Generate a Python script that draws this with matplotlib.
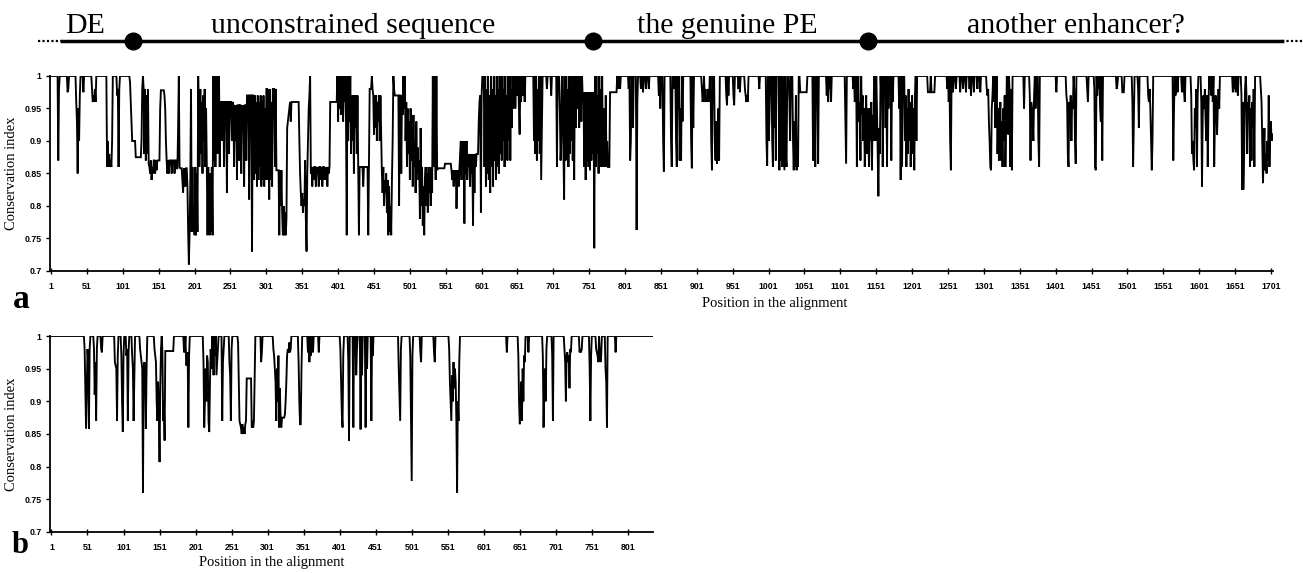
import numpy as np
import matplotlib
matplotlib.use("Agg")
import matplotlib.pyplot as plt

# ---- panel a: conservation index along the 1703-position alignment ----
a_len = 1703
# stretches where the profile sits on a level below 1 (start, end, level)
a_levels = [
    (114, 118, 0.90), (119, 126, 0.875), (137, 152, 0.87), (153, 159, 0.978),
    (160, 175, 0.87), (176, 190, 0.858), (191, 208, 0.86), (209, 217, 0.97),
    (218, 226, 0.86), (237, 254, 0.96), (255, 273, 0.955), (274, 283, 0.97),
    (284, 301, 0.97), (302, 311, 0.98), (315, 329, 0.855), (339, 346, 0.96),
    (347, 357, 0.82), (364, 389, 0.86), (390, 399, 0.96), (419, 428, 0.97),
    (429, 444, 0.86), (445, 449, 0.98), (450, 461, 0.97), (462, 476, 0.84),
    (480, 491, 0.97), (497, 514, 0.95), (515, 532, 0.86), (540, 549, 0.858),
    (550, 558, 0.865), (559, 570, 0.855), (571, 581, 0.9), (582, 596, 0.88),
    (743, 757, 0.975), (771, 779, 0.86), (780, 789, 0.975), (1045, 1054, 0.975),
    (1223, 1232, 0.975), (1494, 1496, 0.975),
]
# read values at consecutive positions (start, values)
a_values = [
    (11, [0.87, 0.98]), (24, [0.975, 0.98]), (36, [0.96, 0.93, 0.85, 0.95, 0.9, 0.97]),
    (46, [0.975]), (58, [0.98, 0.96, 0.97, 0.96, 0.98, 0.96]),
    (79, [0.86, 0.9, 0.86, 0.88, 0.86, 0.87, 0.86, 0.9]), (93, [0.97, 0.98, 0.86, 0.98]),
    (111, [0.99, 0.96, 0.93]),
    (127, [0.9, 0.98, 1.0, 0.98, 0.88, 0.98, 0.87, 0.97, 0.88, 0.98, 0.865]),
    (138, [0.86, 0.85, 0.87, 0.84, 0.86, 0.85]), (146, [0.85, 0.87, 0.855]),
    (153, [0.95]), (159, [0.97, 0.95, 0.9, 0.87, 0.85, 0.87, 0.85]),
    (169, [0.85]), (173, [0.85]), (178, [0.92, 1.0, 0.86]),
    (184, [0.84, 0.82, 0.858, 0.85, 0.83]),
    (191, [0.83, 0.76, 0.71, 0.76, 0.84, 0.98, 0.76, 0.86, 0.78]),
    (200, [0.77, 0.755, 0.86, 0.755, 0.85, 0.76, 1.0, 0.93, 0.86]),
    (209, [0.98, 0.88, 0.96, 0.85, 0.97, 0.9, 0.98, 0.86, 0.95]),
    (218, [0.86, 0.755, 0.86, 0.8, 0.755, 0.85, 0.76, 0.86, 0.755]),
    (227, [1.0, 0.87, 1.0, 0.86, 0.98, 1.0, 0.88, 0.96, 1.0, 0.86]),
    (239, [0.9]), (242, [0.86]), (246, [0.82]), (249, [0.88]), (253, [0.9]),
    (256, [0.86]), (258, [0.9]), (260, [0.84]), (263, [0.87]), (266, [0.85]),
    (268, [0.92]), (270, [0.83]), (273, [0.87]), (277, [0.81]), (281, [0.73]),
    (284, [0.84, 0.97, 0.85, 0.96, 0.83, 0.97, 0.84, 0.96, 0.86, 0.97, 0.83, 0.96,
           0.84, 0.97, 0.83, 0.95, 0.84, 0.98]),
    (303, [0.84]), (305, [0.81]), (307, [0.84, 0.96, 0.83]), (312, [0.98, 0.86, 0.98]),
    (319, [0.755]), (321, [0.8]), (323, [0.79, 0.755, 0.8, 0.755, 0.79, 0.755, 0.78]),
    (330, [0.92, 0.93, 0.94, 0.95, 0.96, 0.93, 0.96, 0.96, 0.96]),
    (347, [0.9, 0.85, 0.82, 0.8, 0.82, 0.79, 0.81, 0.8, 0.87, 0.78, 0.73]),
    (358, [0.85, 0.9, 0.95, 0.97, 1.0, 0.85]),
    (365, [0.83]), (367, [0.84]), (370, [0.83]), (372, [0.85]), (374, [0.83]),
    (377, [0.84]), (379, [0.83]), (382, [0.84]), (384, [0.84]), (386, [0.83]), (388, [0.85]),
    (400, [1.0, 0.93, 1.0, 0.95, 1.0, 0.94, 1.0, 0.98, 0.93, 1.0, 0.96, 1.0, 0.93, 0.755,
           1.0, 0.9, 1.0, 0.93, 1.0]),
    (419, [0.88, 0.97, 0.9, 0.97, 0.85, 0.97, 0.92, 0.97, 0.88, 0.97]),
    (429, [0.86, 0.755, 0.86]), (436, [0.83]), (443, [0.755]), (448, [1.0]),
    (451, [0.91]), (453, [0.92]), (455, [0.9, 0.96, 0.93]), (459, [0.9]), (461, [0.91]),
    (462, [0.85, 0.82, 0.86, 0.8, 0.84, 0.82, 0.85, 0.79, 0.84, 0.755, 0.83, 0.76, 0.8,
           0.755, 0.84]),
    (477, [0.9, 1.0, 0.98]), (486, [0.8]), (489, [0.85]), (491, [0.94]),
    (492, [1.0, 0.95, 1.0, 0.9]),
    (496, [0.96, 0.86, 0.95, 0.88, 0.93, 0.84, 0.95, 0.87, 0.92, 0.83, 0.94, 0.86, 0.9,
           0.82, 0.93, 0.85, 0.89, 0.84]),
    (514, [0.87, 0.78, 0.92, 0.8, 0.86, 0.77, 0.83, 0.755, 0.84]),
    (523, [0.86, 0.8, 0.85, 0.79, 0.86, 0.82, 0.84, 0.8, 0.86, 0.82]),
    (533, [1.0, 0.86, 1.0, 0.9, 0.84, 1.0, 0.855]),
    (560, [0.84]), (562, [0.83]), (564, [0.84]), (566, [0.796, 0.84]), (569, [0.83]),
    (571, [0.88, 0.9, 0.84, 0.9, 0.86, 0.9, 0.773, 0.9, 0.85, 0.9, 0.84]),
    (583, [0.86]), (585, [0.83]), (587, [0.85]), (589, [0.77]), (591, [0.82]), (593, [0.86]),
    (597, [0.93, 0.96, 0.97, 0.79, 0.97, 1.0]),
    (604, [1.0, 0.86, 1.0, 0.83, 0.98, 0.85, 1.0, 0.84, 0.97, 0.82, 1.0, 0.86, 0.98, 0.83,
           1.0, 0.87, 0.97, 0.84, 1.0, 0.86, 0.98, 0.85, 1.0, 0.88, 0.97, 0.87, 1.0, 0.9,
           0.98, 0.86, 1.0, 0.89, 0.97, 0.87, 1.0, 0.9, 1.0, 0.87, 0.98, 0.92, 1.0, 0.95]),
    (646, [0.97]), (648, [0.95]), (651, [0.97]), (653, [0.95, 0.91]), (656, [0.96]),
    (659, [0.97]), (661, [0.96]),
    (674, [0.9]), (676, [0.88]), (678, [0.87, 0.98, 0.9]), (682, [0.88]), (684, [0.84, 0.92]),
    (692, [0.98]), (698, [0.97]), (706, [0.86]),
    (710, [0.95, 0.87, 0.9]),
    (715, [0.88, 0.81, 1.0, 0.87, 1.0, 0.9, 0.98, 0.86, 1.0, 0.88, 1.0, 0.9, 0.97, 0.87,
           1.0, 0.84, 1.0, 0.92]),
    (735, [0.95]), (737, [0.92]), (739, [0.97, 0.93]), (742, [0.96]),
    (744, [0.86]), (746, [0.84]), (748, [0.87]), (750, [0.86]), (752, [0.855]),
    (754, [0.87]), (756, [0.88]), (758, [0.735]),
    (760, [0.86, 1.0, 0.88, 0.97, 0.85, 1.0, 0.87, 0.98, 0.86, 1.0, 0.88]),
    (772, [0.95]), (774, [0.97]), (776, [0.9]),
    (791, [0.98]), (794, [0.98]), (806, [0.98]), (808, [0.87, 0.9]), (812, [0.92]),
    (817, [0.763, 0.96]), (823, [0.98]), (826, [0.975]), (830, [0.98]), (834, [0.98]),
    (848, [0.97]), (850, [0.95]), (854, [0.9, 0.853]),
    (865, [0.9, 0.86]), (869, [0.98]), (872, [0.9, 0.86]), (875, [0.95]),
    (877, [0.87, 0.95, 0.87]), (881, [0.93]), (893, [0.9, 0.858]), (896, [0.92]),
    (908, [0.98, 0.96, 0.97]),
    (912, [0.96, 0.98, 0.96, 0.97, 0.96, 0.98, 0.96]), (921, [0.9, 0.855]), (924, [0.96]),
    (926, [0.9, 0.87, 0.93, 0.865, 0.88, 0.95, 0.87]),
    (942, [0.97, 0.955]), (945, [0.97]), (952, [0.97, 0.955]), (959, [0.98]), (961, [0.975]),
    (968, [0.98, 0.97, 0.96, 0.97, 0.96]), (988, [0.98]),
    (998, [0.9, 0.862]), (1001, [0.9, 0.93]), (1006, [0.9, 0.86]), (1009, [0.92]),
    (1011, [0.87]),
    (1016, [0.855]), (1018, [0.87]), (1020, [0.86]), (1022, [0.93, 0.855]),
    (1025, [0.88, 0.86]), (1030, [0.96, 0.9]),
    (1035, [0.9, 0.855, 0.93, 0.86, 0.97, 0.855, 0.9, 0.86]),
    (1063, [0.87]), (1065, [0.96, 0.86]), (1068, [0.98]), (1070, [0.865]),
    (1082, [0.97]), (1084, [0.96]), (1086, [0.98]), (1088, [0.96]), (1108, [0.93, 0.865]),
    (1119, [0.98]), (1121, [0.96, 0.97]), (1124, [0.86, 0.98]),
    (1127, [0.93, 0.96, 0.87]), (1131, [0.94, 0.97, 0.9, 0.95, 0.86, 0.93, 0.97, 0.88,
                                        0.95, 0.9, 0.86, 0.95, 0.9, 0.96, 0.855, 0.94, 0.9]),
    (1150, [0.9]), (1152, [0.95, 0.88, 0.815, 0.92, 0.88]),
    (1158, [0.97]), (1160, [0.86]), (1162, [0.98]), (1164, [0.92]), (1166, [0.86]),
    (1168, [0.95]), (1170, [0.98]), (1172, [0.87]), (1174, [0.96]),
    (1183, [0.95]), (1185, [0.84]), (1187, [0.86]),
    (1191, [0.9, 0.97, 0.86, 0.95, 0.88, 0.98, 0.9, 0.96, 0.86, 0.93, 0.97, 0.88, 0.95,
            0.855, 0.97]),
    (1207, [0.9]), (1227, [1.0]),
    (1250, [0.98]), (1252, [0.96]), (1254, [0.9, 0.855]), (1258, [0.975]), (1262, [0.98]),
    (1268, [0.975]), (1272, [0.98]), (1276, [0.975]), (1281, [0.98]), (1283, [0.97]),
    (1287, [0.975]), (1292, [0.98]), (1296, [0.975]),
    (1305, [0.98, 0.97, 0.98, 0.93, 0.9, 0.86, 0.855, 0.95, 0.97]), (1315, [0.96]),
    (1317, [0.92, 0.97]), (1320, [0.88, 0.95, 0.87, 0.93, 0.96, 0.87, 0.93, 0.86, 0.95,
                                   0.9, 0.97, 0.86, 0.92]),
    (1334, [0.96, 0.91]), (1337, [0.97, 0.86, 0.98, 0.855]),
    (1357, [0.95]), (1365, [0.97, 0.87, 0.96, 0.95, 0.93, 0.9, 0.97]), (1373, [0.95]),
    (1377, [0.9, 0.86]), (1402, [0.975]),
    (1416, [0.97, 0.96, 0.88, 0.86, 0.96, 0.93, 0.97, 0.9, 0.96, 0.95]), (1427, [0.98]),
    (1428, [0.9, 0.865]), (1445, [0.98, 0.96]),
    (1455, [0.98, 0.86, 0.855]), (1459, [0.97]), (1461, [0.98]), (1463, [0.95, 0.93]),
    (1466, [0.87]), (1486, [0.98, 0.985]),
    (1508, [0.96, 0.86, 0.93]), (1516, [0.98, 0.92]),
    (1530, [0.97, 0.96, 0.98, 0.95]), (1534, [0.9, 0.855, 0.9]),
    (1565, [0.87, 0.95]), (1568, [0.97, 0.98]), (1571, [0.975]), (1577, [0.975, 0.98]),
    (1580, [0.975, 0.96]),
    (1590, [0.97, 0.88, 0.9, 0.87, 0.855, 0.95, 0.92, 0.98, 0.86, 0.97]),
    (1604, [0.96, 0.83, 0.94, 0.97, 0.95, 0.98, 0.93, 0.9, 0.97, 0.86, 0.95]),
    (1616, [0.98]), (1618, [0.97]), (1620, [0.96]),
    (1622, [0.86, 0.93, 0.97, 0.96, 0.91, 0.95, 0.98, 0.95]),
    (1648, [0.975]), (1650, [0.98]), (1652, [0.975]), (1655, [0.97]),
    (1660, [0.97, 0.825, 0.96, 0.825, 0.9, 0.98]),
    (1667, [0.97, 0.88, 0.96, 0.94, 0.97, 0.86, 0.95, 0.87, 0.96, 0.92, 0.98, 0.86]),
    (1687, [0.98, 0.96, 0.9, 0.835, 0.88, 0.92, 0.855, 0.88, 0.85, 0.9, 0.87, 0.97, 0.86,
            0.91, 0.93, 0.9, 0.91]),
]

# ---- panel b: second alignment, 836 positions ----
b_len = 836
b_levels = [(159, 170, 0.977), (272, 278, 0.935), (319, 324, 0.875)]
b_values = [
    (47, [0.98, 0.915, 0.858, 0.92, 0.98, 0.96, 0.858, 0.98]),
    (60, [0.98, 0.91, 0.96, 0.87, 0.98]), (70, [0.98, 0.975]),
    (89, [0.96, 0.955, 0.95, 0.87, 0.97]), (98, [0.97, 0.9, 0.853, 0.97]),
    (105, [0.97, 0.98, 0.87, 0.975]), (113, [0.97, 0.95, 0.87, 0.94]),
    (124, [0.98, 0.97, 0.96, 0.95, 0.76, 0.95, 0.96, 0.95, 0.858, 0.95]),
    (144, [0.98, 0.97, 0.96, 0.9, 0.87, 0.93, 0.88, 0.807, 0.92, 0.98]),
    (155, [0.975, 0.87, 0.9, 0.84]),
    (185, [0.975, 0.98]), (188, [0.955, 0.96, 0.975, 0.86, 0.97]),
    (212, [0.96, 0.86, 0.9, 0.95, 0.9, 0.97, 0.96, 0.87, 0.853, 0.93, 0.98, 0.95]),
    (225, [0.98, 0.94]), (228, [0.97]), (230, [0.94, 0.96, 0.98]),
    (238, [0.87, 0.96, 0.98]), (248, [0.96, 0.94, 0.87, 0.98]),
    (260, [0.99, 0.93, 0.87, 0.865, 0.86, 0.85, 0.865, 0.85, 0.86, 0.85, 0.865, 0.87]),
    (279, [0.86, 0.87, 0.86, 0.87, 0.94]), (292, [0.96, 0.975]),
    (309, [0.98, 0.97, 0.95, 0.93, 0.87, 0.95, 0.9, 0.97, 0.86, 0.92]),
    (320, [0.86]), (325, [0.88, 0.9, 0.93, 0.97, 0.98, 0.975, 0.99, 0.975, 0.98]),
    (344, [0.96, 0.9, 0.865, 0.865, 0.95]),
    (357, [0.975]), (359, [0.96]), (361, [0.97]), (363, [0.98, 0.975]), (372, [0.975]),
    (402, [0.98, 0.93, 0.88, 0.86, 0.97]), (413, [0.96, 0.84]),
    (420, [0.86]), (422, [0.97]), (424, [0.94, 0.98]), (430, [0.857]), (432, [0.94]),
    (437, [0.86]), (439, [0.95]), (445, [0.87]), (447, [0.97]),
    (483, [0.95, 0.91, 0.87, 0.98]), (499, [0.97, 0.88, 0.778, 0.97]),
    (513, [0.975, 0.96]), (532, [0.975, 0.96]),
    (553, [0.98, 0.93, 0.9, 0.87, 0.94, 0.9, 0.96, 0.92, 0.95, 0.93, 0.87, 0.76, 0.9,
           0.87, 0.96]),
    (633, [0.975]), (649, [0.97, 0.9, 0.865, 0.88, 0.93, 0.87, 0.95, 0.9, 0.97, 0.96]),
    (663, [0.975]), (683, [0.97, 0.86, 0.93, 0.95, 0.9, 0.98]), (696, [0.97, 0.87]),
    (713, [0.98, 0.96, 0.9, 0.97, 0.975, 0.96, 0.97, 0.92, 0.98, 0.975]),
    (734, [0.975, 0.98, 0.975, 0.98]), (748, [0.95, 0.87, 0.97]),
    (757, [0.98, 0.975, 0.97, 0.96]), (762, [0.975, 0.96, 0.97]),
    (770, [0.95, 0.93, 0.86]), (784, [0.975]),
]

# top annotation: region boundaries and region names (alignment positions)
region_bounds = [115, 756, 1139]
region_names = ["DE", "unconstrained sequence", "the genuine PE", "another enhancer?"]
region_centers = [48, 422, 944, 1429]

y_ticks = [0.7, 0.75, 0.8, 0.85, 0.9, 0.95, 1]
y_ticklabels = ["0.7", "0.75", "0.8", "0.85", "0.9", "0.95", "1"]


def build(n, levels, values):
    y = np.ones(n)
    for s, e, v in levels:
        y[s - 1:e] = v
    for s, vals in values:
        y[s - 1:s - 1 + len(vals)] = vals
    return np.arange(1, n + 1), y


serif = "Liberation Serif"
tick_font = dict(family="Liberation Sans", weight="bold", size=6.3)

fig = plt.figure(figsize=(13.03, 5.73), dpi=100)


def style(ax, x, y, xticks):
    ax.plot(x, y, color="black", lw=1.35, solid_joinstyle="miter")
    ax.set_ylim(0.7, 1.0)
    ax.spines["top"].set_visible(False)
    ax.spines["right"].set_visible(False)
    for s in ("left", "bottom"):
        ax.spines[s].set_linewidth(1.3)
    ax.set_yticks(y_ticks)
    ax.set_yticklabels(y_ticklabels, fontdict=tick_font)
    ax.set_xticks(xticks)
    ax.set_xticklabels([str(t) for t in xticks], fontdict=tick_font)
    ax.tick_params(axis="x", direction="inout", length=4, width=1, pad=6)
    ax.tick_params(axis="y", direction="out", length=3, width=1, pad=3)
    ax.set_ylabel("Conservation index", family=serif, fontsize=10.5)


ax_a = fig.add_axes([0.0384, 0.5271, 0.9386, 0.3403])
xa, ya = build(a_len, a_levels, a_values)
style(ax_a, xa, ya, list(range(1, 1702, 50)))
ax_a.set_xlim(-0.5, 1704)
ax_a.yaxis.set_label_coords(-0.026, 0.5)

ax_b = fig.add_axes([0.0384, 0.0716, 0.4628, 0.342])
xb, yb = build(b_len, b_levels, b_values)
style(ax_b, xb, yb, list(range(1, 802, 50)))
ax_b.set_xlim(-1, 836)
ax_b.yaxis.set_label_coords(-0.053, 0.5)

fig.text(0.5948, 0.471, "Position in the alignment", family=serif, fontsize=10.5,
         ha="center", va="center")
fig.text(0.2088, 0.0175, "Position in the alignment", family=serif, fontsize=10.5,
         ha="center", va="center")
fig.text(0.010, 0.462, "a", family=serif, fontsize=24, weight="bold")
fig.text(0.009, 0.035, "b", family=serif, fontsize=22, weight="bold")

# top scheme of the regions
ax_t = fig.add_axes([0.0384, 0.8953, 0.9386, 0.1047])
ax_t.set_xlim(ax_a.get_xlim())
ax_t.set_ylim(0, 1)
ax_t.axis("off")
line_y = 0.317
ax_t.plot([16, 1716], [line_y, line_y], color="black", lw=2.5, clip_on=False)
ax_t.plot([-17, 16], [line_y, line_y], color="black", lw=1.6, ls=(0, (1, 1)), clip_on=False)
ax_t.plot([1716, 1746], [line_y, line_y], color="black", lw=1.6, ls=(0, (1, 1)), clip_on=False)
ax_t.plot(region_bounds, [line_y] * len(region_bounds), "o", color="black", ms=12,
          clip_on=False)
for name, cx in zip(region_names, region_centers):
    ax_t.text(cx, 0.45, name, family=serif, fontsize=21.5, ha="center", va="baseline")

fig.savefig("out.png", dpi=100)
